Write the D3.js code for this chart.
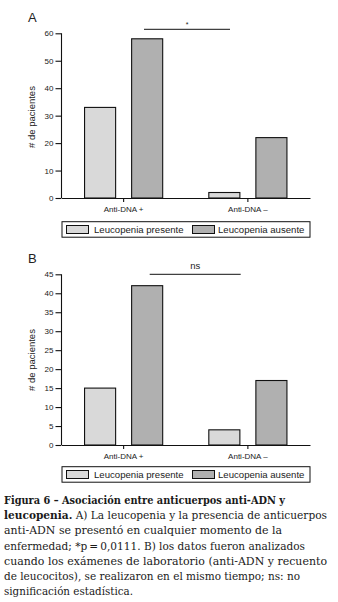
<!DOCTYPE html>
<html><head><meta charset="utf-8">
<script src="https://cdn.jsdelivr.net/npm/d3@7"></script>
<style>
html,body{margin:0;padding:0;background:#fff;}
svg{display:block;}
</style></head>
<body>
<script>
const categories = ["Anti-DNA +", "Anti-DNA \u2013"];
const seriesNames = ["Leucopenia presente", "Leucopenia ausente"];
const colors = ["#d9d9d9", "#b0b0b0"];
const valuesA_presente = [33, 2];
const valuesA_ausente = [58, 22];
const valuesB_presente = [15, 4];
const valuesB_ausente = [42, 17];
const ticksA = [0, 10, 20, 30, 40, 50, 60];
const ticksB = [0, 5, 10, 15, 20, 25, 30, 35, 40, 45];
const captionLines = [
  [["Figura 6 \u2013 Asociación entre anticuerpos anti-ADN y", true]],
  [["leucopenia.", true], [" A) La leucopenia y la presencia de anticuerpos", false]],
  [["anti-ADN se presentó en cualquier momento de la", false]],
  [["enfermedad; *p\u2009=\u20090,0111. B) los datos fueron analizados", false]],
  [["cuando los exámenes de laboratorio (anti-ADN y recuento", false]],
  [["de leucocitos), se realizaron en el mismo tiempo; ns: no", false]],
  [["significación estadística.", false]]
];
const captionLineEnds = [285, 327, 282, 305, 327, 300, 133];

const W = 338, H = 602;
const svg = d3.select("body").append("svg").attr("width", W).attr("height", H);
const font = "'Liberation Sans', Arial, sans-serif";

function panel(opts) {
  const g = svg.append("g");
  const x0 = 61.5, x1 = 310;
  const y = d3.scaleLinear().domain([0, opts.max]).range([opts.y0, opts.yTop]);
  const xb = d3.scaleBand().domain(categories).range([x0, x1]).paddingInner(0).paddingOuter(0);
  const xs = d3.scaleBand().domain([0, 1]).range([0, xb.bandwidth()]).paddingInner(0.34).paddingOuter(0.49);
  g.append("text").attr("x", 28).attr("y", opts.letterY).text(opts.letter)
    .attr("font-family", font).attr("font-size", 13).attr("fill", "#222");
  const series = [opts.pres, opts.aus];
  series.forEach((vals, si) => {
    g.selectAll(null).data(vals).enter().append("rect")
      .attr("x", (d, i) => xb(categories[i]) + xs(si))
      .attr("width", xs.bandwidth())
      .attr("y", d => y(d))
      .attr("height", d => y(0) - y(d))
      .attr("fill", colors[si]).attr("stroke", "#111").attr("stroke-width", 1.1);
  });
  const ya = g.append("g").attr("transform", `translate(${x0},0)`)
    .call(d3.axisLeft(y).tickValues(opts.ticks).tickSize(6).tickPadding(2));
  ya.select(".domain").attr("d", `M0,${opts.y0}V${opts.yTop}`).attr("stroke", "#111").attr("stroke-width", 1.1);
  ya.selectAll(".tick line").attr("stroke", "#111").attr("stroke-width", 1.1);
  ya.selectAll(".tick text").attr("font-family", font).attr("font-size", 8).attr("fill", "#222");
  const xa = g.append("g").attr("transform", `translate(0,${opts.y0})`)
    .call(d3.axisBottom(xb).tickSize(4).tickPadding(4).tickSizeOuter(0));
  xa.select(".domain").attr("stroke", "#111").attr("stroke-width", 1.1);
  xa.selectAll(".tick line").attr("stroke", "#111").attr("stroke-width", 1.1);
  xa.selectAll(".tick text").attr("font-family", font).attr("font-size", 8).attr("fill", "#222");
  g.append("text").attr("transform", `translate(35,${opts.labelY}) rotate(-90)`)
    .attr("text-anchor", "middle").text("# de pacientes")
    .attr("font-family", font).attr("font-size", 9.5).attr("fill", "#222");
  g.append("line").attr("x1", opts.sig[0]).attr("x2", opts.sig[1])
    .attr("y1", opts.sigY).attr("y2", opts.sigY).attr("stroke", "#111").attr("stroke-width", 1);
  g.append("text").attr("x", (opts.sig[0] + opts.sig[1]) / 2).attr("y", opts.sigTextY)
    .attr("text-anchor", "middle").text(opts.sigText)
    .attr("font-family", font).attr("font-size", opts.sigSize).attr("fill", "#222");
  const ly = opts.legY;
  g.append("rect").attr("x", 62).attr("y", ly).attr("width", 248).attr("height", 15.5)
    .attr("fill", "#fff").attr("stroke", "#111").attr("stroke-width", 1);
  const items = [{x: 66.5, tx: 94}, {x: 192.5, tx: 218}];
  items.forEach((it, i) => {
    g.append("rect").attr("x", it.x).attr("y", ly + 3.8).attr("width", 22).attr("height", 8)
      .attr("fill", colors[i]).attr("stroke", "#111").attr("stroke-width", 1);
    g.append("text").attr("x", it.tx).attr("y", ly + 11.3).text(seriesNames[i])
      .attr("font-family", font).attr("font-size", 9.6).attr("fill", "#222");
  });
}

panel({letter: "A", letterY: 22, max: 60, y0: 198, yTop: 33.3, ticks: ticksA,
  pres: valuesA_presente, aus: valuesA_ausente, labelY: 117,
  sig: [144, 230], sigY: 29.3, sigText: "*", sigTextY: 27, sigSize: 7,
  legY: 221.7});
panel({letter: "B", letterY: 263, max: 45, y0: 445, yTop: 274.3, ticks: ticksB,
  pres: valuesB_presente, aus: valuesB_ausente, labelY: 360,
  sig: [149.7, 240.7], sigY: 274.3, sigText: "ns", sigTextY: 269, sigSize: 9.5,
  legY: 466.7});

const cap = svg.append("g");
const capFont = "'DejaVu Serif', 'Liberation Serif', serif";
captionLines.forEach((line, i) => {
  const t = cap.append("text").attr("x", 4).attr("y", 504 + i * 15.2)
    .attr("font-family", capFont).attr("font-size", 11).attr("fill", "#1a1a1a")
    .attr("textLength", captionLineEnds[i] - 4).attr("lengthAdjust", "spacingAndGlyphs");
  line.forEach(([s, b]) => {
    t.append("tspan").text(s).attr("font-weight", b ? "bold" : "normal");
  });
});
</script>
</body></html>
